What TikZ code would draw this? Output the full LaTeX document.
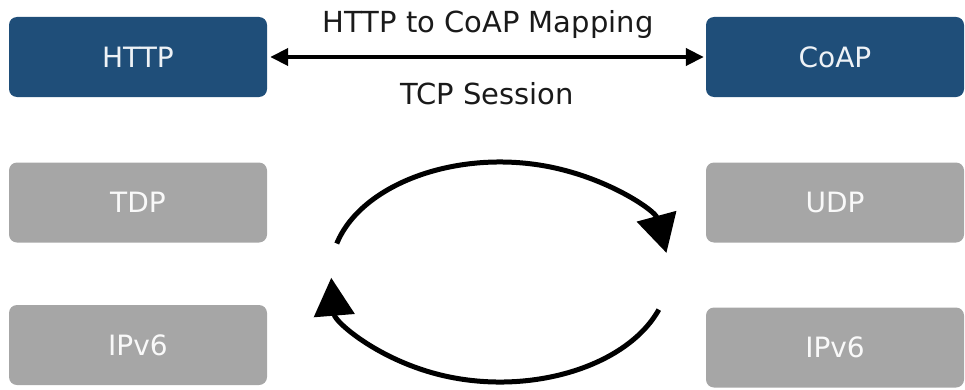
\documentclass[tikz,border=0pt]{standalone}
\usepackage{fontspec}
\setmainfont{DejaVu Sans}
\usetikzlibrary{arrows.meta}
\definecolor{boxblue}{HTML}{1F4E79}
\definecolor{boxgray}{HTML}{A6A6A6}
\definecolor{txt}{HTML}{1A1A1A}
\definecolor{boxtxt}{HTML}{EEF2F6}
\begin{document}
\begin{tikzpicture}[x=1pt,y=1pt,
  layerbox/.style={rectangle, rounded corners=8pt, minimum width=258pt, minimum height=80pt, inner sep=0pt, font=\fontsize{28}{32}\selectfont, text=boxtxt},
  bluebox/.style={layerbox, fill=boxblue},
  graybox/.style={layerbox, fill=boxgray, text=white!95!gray},
  lbl/.style={font=\fontsize{29}{32}\selectfont, text=txt, inner sep=0pt, anchor=base},
  cyc/.style={line width=5pt, -{Triangle[length=38pt,width=40pt]}}
]
\useasboundingbox (0,0) rectangle (965,389);
\node[bluebox] (http) at (138,332) {HTTP};
\node[bluebox] (coap) at (835,332) {CoAP};
\node[graybox] (tdp) at (138,186.5) {TDP};
\node[graybox] (udp) at (835,186.5) {UDP};
\node[graybox] (ipl) at (138,44) {IPv6};
\node[graybox] (ipr) at (835,41.5) {IPv6};
\node[lbl] (map) at (488,356) {HTTP to CoAP Mapping};
\node[lbl] (tcp) at (487,285) {TCP Session};
\draw[line width=4pt, {Triangle[length=18pt,width=17pt]}-{Triangle[length=18pt,width=17pt]}, shorten <=3pt, shorten >=2pt] (http.east) -- (coap.west);
\coordinate (c1) at ({500+169*cos(165)},{117+110*sin(165)});
\coordinate (c2) at ({500+169*cos(-20)},{117+110*sin(-20)});
\draw[cyc] (c1) arc[start angle=165, end angle=10, x radius=169, y radius=110];
\draw[cyc] (c2) arc[start angle=-20, end angle=-177, x radius=169, y radius=110];
\end{tikzpicture}
\end{document}
